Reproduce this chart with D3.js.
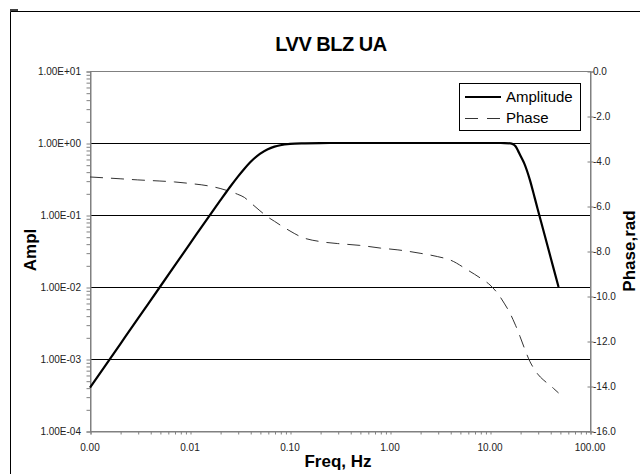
<!DOCTYPE html>
<html>
<head>
<meta charset="utf-8">
<script src="https://cdn.jsdelivr.net/npm/d3@7"></script>
<style>
  html, body { margin: 0; padding: 0; background: #fff; }
  svg { display: block; font-family: "Liberation Sans", Arial, sans-serif; }
</style>
</head>
<body>
<svg id="chart" width="640" height="474"></svg>
<script>
// ---- data ----
const title = "LVV BLZ UA";
const freqHz = [0.001, 0.002, 0.003, 0.005, 0.007, 0.01, 0.015, 0.02, 0.025, 0.03, 0.035, 0.04, 0.05, 0.06, 0.07, 0.08, 0.1, 0.13, 0.2, 0.3, 0.5, 0.8, 1.2, 2, 3, 4, 6, 8, 10, 12, 14, 16, 17, 18, 19, 20, 22, 25, 28, 30, 34, 38, 43, 48.5];
const amplitude = [4.0e-4, 1.6e-3, 3.6e-3, 1.0e-2, 1.96e-2, 4.0e-2, 9.0e-2, 0.158, 0.243, 0.339, 0.44, 0.54, 0.707, 0.82, 0.89, 0.93, 0.97, 0.989, 0.998, 1.0, 1.0, 1.0, 1.0, 1.0, 1.0, 1.0, 1.0, 1.0, 1.0, 1.0, 0.998, 0.99, 0.96, 0.9, 0.79, 0.68, 0.52, 0.31, 0.173, 0.12, 0.063, 0.0354, 0.0186, 0.0100];
const phaseRad = [-4.71, -4.79, -4.84, -4.89, -4.93, -5.0, -5.1, -5.22, -5.35, -5.48, -5.62, -5.84, -6.21, -6.49, -6.68, -6.85, -7.11, -7.38, -7.58, -7.67, -7.75, -7.87, -7.95, -8.1, -8.25, -8.4, -8.85, -9.2, -9.51, -9.9, -10.35, -10.8, -11.05, -11.3, -11.55, -11.81, -12.3, -12.9, -13.28, -13.47, -13.72, -13.9, -14.1, -14.31];
const xTicks = [0.001, 0.01, 0.1, 1, 10, 100];
const xTickLabels = ["0.00", "0.01", "0.10", "1.00", "10.00", "100.00"];
const ampTicks = [1e-4, 1e-3, 1e-2, 1e-1, 1e0, 1e1];
const ampTickLabels = ["1.00E-04", "1.00E-03", "1.00E-02", "1.00E-01", "1.00E+00", "1.00E+01"];
const phaseTicks = [0, -2, -4, -6, -8, -10, -12, -14, -16];
const phaseTickLabels = ["0.0", "-2.0", "-4.0", "-6.0", "-8.0", "-10.0", "-12.0", "-14.0", "-16.0"];
const seriesNames = ["Amplitude", "Phase"];

// ---- layout ----
const L = 90, R = 590, T = 71, B = 431;
const svg = d3.select("#chart");

const x = d3.scaleLog().domain([0.001, 100]).range([L, R]);
const yA = d3.scaleLog().domain([1e-4, 10]).range([B, T]);
const yP = d3.scaleLinear().domain([-16, 0]).range([B, T]);

// outer frame (cut by window edges)
svg.append("path").attr("d", "M10.5,474 L10.5,11.5 L640,11.5")
  .attr("fill", "none").attr("stroke", "#000").attr("stroke-width", 1);
svg.append("line").attr("x1", 10).attr("x2", 18).attr("y1", 10).attr("y2", 10)
  .attr("stroke", "#000").attr("stroke-width", 1.5);

// title
svg.append("text").attr("x", 331).attr("y", 51).attr("text-anchor", "middle")
  .attr("font-size", 20).attr("font-weight", "bold").attr("letter-spacing", -0.5).text(title);

// gridlines (interior decades)
svg.append("g").selectAll("line").data(ampTicks.filter(v => v > 1e-4 && v < 10)).join("line")
  .attr("x1", L).attr("x2", R)
  .attr("y1", d => Math.round(yA(d)) + 0.5).attr("y2", d => Math.round(yA(d)) + 0.5)
  .attr("stroke", "#000").attr("stroke-width", 1);

// plot border
svg.append("rect").attr("x", L + 0.5).attr("y", T + 0.5).attr("width", R - L).attr("height", B - T)
  .attr("fill", "none").attr("stroke", "#808080").attr("stroke-width", 1);

// left axis (log, with minor ticks)
const ampMinor = [];
for (let e = -4; e < 1; e++) for (let m = 1; m <= 9; m++) ampMinor.push(m * Math.pow(10, e));
ampMinor.push(10);
const leftAxis = d3.axisLeft(yA).tickValues(ampMinor).tickSize(4).tickFormat("");
svg.append("g").attr("transform", `translate(${L + 0.5},0.5)`).call(leftAxis)
  .call(g => g.select(".domain").attr("stroke", "#808080"))
  .call(g => g.selectAll(".tick line").attr("stroke", "#808080"));
svg.append("g").selectAll("text").data(ampTicks).join("text")
  .attr("x", 81).attr("y", d => yA(d)).attr("dy", "0.35em").attr("text-anchor", "end")
  .attr("font-size", 10).attr("fill", "#222").text((d, i) => ampTickLabels[i]);

// bottom axis (log, minor ticks)
const fMinor = [];
for (let e = -3; e < 2; e++) for (let m = 1; m <= 9; m++) fMinor.push(m * Math.pow(10, e));
fMinor.push(100);
const bottomAxis = d3.axisBottom(x).tickValues(fMinor).tickSize(3).tickFormat("");
svg.append("g").attr("transform", `translate(0.5,${B + 0.5})`).call(bottomAxis)
  .call(g => g.select(".domain").attr("stroke", "#808080"))
  .call(g => g.selectAll(".tick line").attr("stroke", "#808080"));
svg.append("g").selectAll("text").data(xTicks).join("text")
  .attr("x", d => x(d)).attr("y", 451).attr("text-anchor", "middle")
  .attr("font-size", 10).attr("fill", "#222").text((d, i) => xTickLabels[i]);

// right axis (phase)
const rightAxis = d3.axisRight(yP).tickValues(phaseTicks).tickSize(3).tickFormat("");
svg.append("g").attr("transform", `translate(${R + 0.5},0.5)`).call(rightAxis)
  .call(g => g.select(".domain").attr("stroke", "#808080"))
  .call(g => g.selectAll(".tick line").attr("stroke", "#808080").attr("x1", -3));
svg.append("g").selectAll("text").data(phaseTicks).join("text")
  .attr("x", 593).attr("y", d => yP(d)).attr("dy", "0.35em").attr("text-anchor", "start")
  .attr("font-size", 10).attr("fill", "#222").text((d, i) => phaseTickLabels[i]);

// axis titles
svg.append("text").attr("transform", "translate(36,250) rotate(-90)").attr("text-anchor", "middle")
  .attr("font-size", 17).attr("font-weight", "bold").text("Ampl");
svg.append("text").attr("transform", "translate(635,251) rotate(-90)").attr("text-anchor", "middle")
  .attr("font-size", 17).attr("font-weight", "bold").text("Phase,rad");
svg.append("text").attr("x", 338).attr("y", 467).attr("text-anchor", "middle")
  .attr("font-size", 17).attr("font-weight", "bold").text("Freq, Hz");

// series
const ampLine = d3.line().x((d, i) => x(freqHz[i])).y(d => yA(d)).curve(d3.curveMonotoneX);
const phLine = d3.line().x((d, i) => x(freqHz[i])).y(d => yP(d)).curve(d3.curveMonotoneX);
svg.append("path").datum(phaseRad).attr("d", phLine).attr("fill", "none")
  .attr("stroke", "#333").attr("stroke-width", 1).attr("stroke-dasharray", "13,8");
svg.append("path").datum(amplitude).attr("d", ampLine).attr("fill", "none")
  .attr("stroke", "#000").attr("stroke-width", 2.2);

// legend
const lg = svg.append("g");
lg.append("rect").attr("x", 459.5).attr("y", 83.5).attr("width", 121).attr("height", 47)
  .attr("fill", "#fff").attr("stroke", "#000").attr("stroke-width", 1);
lg.append("line").attr("x1", 465).attr("x2", 501).attr("y1", 97).attr("y2", 97)
  .attr("stroke", "#000").attr("stroke-width", 2.2);
lg.append("line").attr("x1", 465).attr("x2", 501).attr("y1", 118.5).attr("y2", 118.5)
  .attr("stroke", "#333").attr("stroke-width", 1).attr("stroke-dasharray", "13,9");
lg.append("text").attr("x", 506).attr("y", 97).attr("dy", "0.35em").attr("font-size", 15)
  .text(seriesNames[0]);
lg.append("text").attr("x", 506).attr("y", 118).attr("dy", "0.35em").attr("font-size", 15)
  .text(seriesNames[1]);
</script>
</body>
</html>
